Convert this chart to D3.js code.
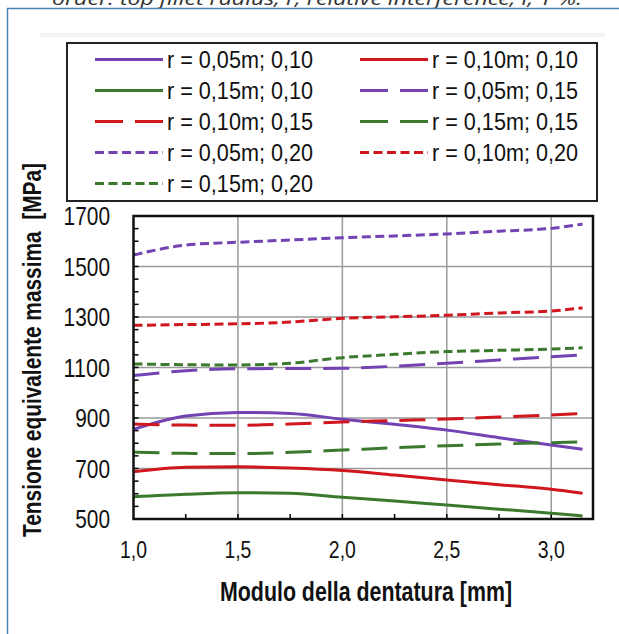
<!DOCTYPE html>
<html>
<head>
<meta charset="utf-8">
<script src="https://d3js.org/d3.v7.min.js"></script>
<style>
  body { margin: 0; background: #fff; }
  svg { display: block; }
  .narrow { font-family: "Liberation Sans", Arial, sans-serif; fill: #111; }
</style>
</head>
<body>
<svg id="chart" width="619" height="634"></svg>
<script>
// module values (x)
const modulo = [1.0, 1.25, 1.5, 1.75, 2.0, 2.25, 2.5, 2.75, 3.0, 3.15];

// max equivalent stress [MPa], one array per curve
const r05_i10 = [855, 908, 922, 918, 895, 875, 852, 822, 793, 776];
const r10_i10 = [687, 705, 707, 702, 692, 674, 654, 636, 618, 602];
const r15_i10 = [588, 598, 604, 602, 586, 571, 555, 539, 523, 512];
const r05_i15 = [1068, 1087, 1095, 1096, 1097, 1105, 1117, 1130, 1143, 1150];
const r10_i15 = [876, 872, 871, 876, 884, 890, 896, 904, 912, 918];
const r15_i15 = [765, 760, 759, 764, 773, 782, 790, 797, 802, 805];
const r05_i20 = [1545, 1585, 1596, 1605, 1614, 1621, 1629, 1640, 1651, 1668];
const r10_i20 = [1267, 1270, 1273, 1280, 1295, 1301, 1307, 1316, 1324, 1336];
const r15_i20 = [1114, 1111, 1110, 1117, 1139, 1152, 1163, 1168, 1173, 1178];

const seriesNames = ["r = 0,05m; 0,10", "r = 0,10m; 0,10", "r = 0,15m; 0,10",
                     "r = 0,05m; 0,15", "r = 0,10m; 0,15", "r = 0,15m; 0,15",
                     "r = 0,05m; 0,20", "r = 0,10m; 0,20", "r = 0,15m; 0,20"];
const seriesValues = [r05_i10, r10_i10, r15_i10, r05_i15, r10_i15, r15_i15, r05_i20, r10_i20, r15_i20];

const xTicks = [1.0, 1.5, 2.0, 2.5, 3.0];
const yTicks = [500, 700, 900, 1100, 1300, 1500, 1700];

const purple = "#7343b3", red = "#d0161f", green = "#3b7a2e";
const colorOf = [purple, red, green, purple, red, green, purple, red, green];
const dashOf = ["none", "none", "none", "26,12", "26,12", "26,12", "9,4.5", "9,4.5", "9,4.5"];

const svg = d3.select("#chart");

// page frame + cut caption from the source document
svg.append("text")
  .attr("x", 52).attr("y", 5)
  .attr("textLength", 530)
  .attr("lengthAdjust", "spacingAndGlyphs")
  .style("font-family", "'Open Sans', sans-serif")
  .style("font-style", "italic")
  .style("font-size", "18px")
  .style("fill", "#333")
  .text("order: top fillet radius, r, relative interference, i, 1 %.");

svg.append("path")
  .attr("d", "M7.5,634 V8.5 H619")
  .attr("fill", "none")
  .attr("stroke", "#4b7fb3")
  .attr("stroke-width", 1.5);

svg.append("rect")
  .attr("x", 40).attr("y", 33).attr("width", 565).attr("height", 4)
  .attr("fill", "#f3f3f3");

const x = d3.scaleLinear().domain([1.0, 3.2]).range([133.5, 593]);
const y = d3.scaleLinear().domain([500, 1700]).range([519, 216]);

// grid
const grid = svg.append("g");
grid.selectAll(".gx").data(xTicks.slice(1))
  .enter().append("line")
  .attr("x1", d => x(d)).attr("x2", d => x(d))
  .attr("y1", y(1700)).attr("y2", y(500))
  .attr("stroke", "#9a9a9a").attr("stroke-width", 1.5);
grid.selectAll(".gy").data(yTicks.slice(1, -1))
  .enter().append("line")
  .attr("x1", x(1.0)).attr("x2", x(3.2))
  .attr("y1", d => y(d)).attr("y2", d => y(d))
  .attr("stroke", "#9a9a9a").attr("stroke-width", 1.5);

// inner minor ticks
const yMinor = d3.range(550, 1700, 50);
svg.append("g").selectAll("line").data(yMinor)
  .enter().append("line")
  .attr("x1", x(1.0)).attr("x2", x(1.0) + 5)
  .attr("y1", d => y(d)).attr("y2", d => y(d))
  .attr("stroke", "#000").attr("stroke-width", 1.5);
const xMinor = d3.range(1.25, 3.2, 0.25);
svg.append("g").selectAll("line").data(xMinor)
  .enter().append("line")
  .attr("x1", d => x(d)).attr("x2", d => x(d))
  .attr("y1", y(500)).attr("y2", y(500) - 5)
  .attr("stroke", "#000").attr("stroke-width", 1.5);

// curves
svg.append("clipPath").attr("id", "clip")
  .append("rect")
  .attr("x", x(1.0)).attr("y", y(1700))
  .attr("width", x(3.2) - x(1.0)).attr("height", y(500) - y(1700));

const line = d3.line()
  .x(d => x(d[0]))
  .y(d => y(d[1]))
  .curve(d3.curveMonotoneX);

svg.append("g").attr("clip-path", "url(#clip)")
  .selectAll("path")
  .data(seriesValues)
  .enter().append("path")
  .attr("d", vals => line(vals.map((v, i) => [modulo[i], v])))
  .attr("fill", "none")
  .attr("stroke", (d, i) => colorOf[i])
  .attr("stroke-dasharray", (d, i) => dashOf[i])
  .attr("stroke-width", 3);

// plot frame
svg.append("rect")
  .attr("x", x(1.0)).attr("y", y(1700))
  .attr("width", x(3.2) - x(1.0)).attr("height", y(500) - y(1700))
  .attr("fill", "none").attr("stroke", "#111").attr("stroke-width", 2.5);

// tick labels (narrow face imitated with textLength)
svg.append("g").attr("class", "narrow")
  .selectAll("text").data(yTicks)
  .enter().append("text")
  .attr("x", 110).attr("y", d => y(d) + 9)
  .attr("text-anchor", "end")
  .attr("textLength", d => String(d).length * 11.6)
  .attr("lengthAdjust", "spacingAndGlyphs")
  .style("font-size", "25px")
  .text(d => d);

svg.append("g").attr("class", "narrow")
  .selectAll("text").data(xTicks)
  .enter().append("text")
  .attr("x", d => x(d)).attr("y", 558)
  .attr("text-anchor", "middle")
  .attr("textLength", 27)
  .attr("lengthAdjust", "spacingAndGlyphs")
  .style("font-size", "24px")
  .text(d => d3.format(".1f")(d).replace(".", ","));

// axis titles
svg.append("text").attr("class", "narrow")
  .attr("x", 366).attr("y", 601)
  .attr("text-anchor", "middle")
  .attr("textLength", 292)
  .attr("lengthAdjust", "spacingAndGlyphs")
  .style("font-size", "27px").style("font-weight", "bold")
  .text("Modulo della dentatura [mm]");

svg.append("text").attr("class", "narrow")
  .attr("transform", "translate(41,350) rotate(-90)")
  .attr("text-anchor", "middle")
  .attr("textLength", 374)
  .attr("lengthAdjust", "spacingAndGlyphs")
  .style("font-size", "25px").style("font-weight", "bold")
  .style("white-space", "pre")
  .text("Tensione equivalente massima  [MPa]");

// legend
const legend = svg.append("g");
legend.append("rect")
  .attr("x", 67).attr("y", 43).attr("width", 530).attr("height", 158)
  .attr("fill", "#fff").attr("stroke", "#222").attr("stroke-width", 2);

const item = legend.selectAll(".item").data(seriesNames)
  .enter().append("g")
  .attr("transform", (d, i) => "translate(" + (i % 2 ? 360 : 95) + "," + (59.5 + Math.floor(i / 2) * 31) + ")");
item.append("line")
  .attr("x1", 0).attr("x2", 68).attr("y1", 0).attr("y2", 0)
  .attr("stroke", (d, i) => colorOf[i])
  .attr("stroke-dasharray", (d, i) => i >= 3 && i < 6 ? "28,12" : dashOf[i])
  .attr("stroke-width", 3);
item.append("text").attr("class", "narrow")
  .attr("x", 72).attr("y", 8.5)
  .attr("textLength", 146)
  .attr("lengthAdjust", "spacingAndGlyphs")
  .style("font-size", "24px")
  .text(d => d);
</script>
</body>
</html>
